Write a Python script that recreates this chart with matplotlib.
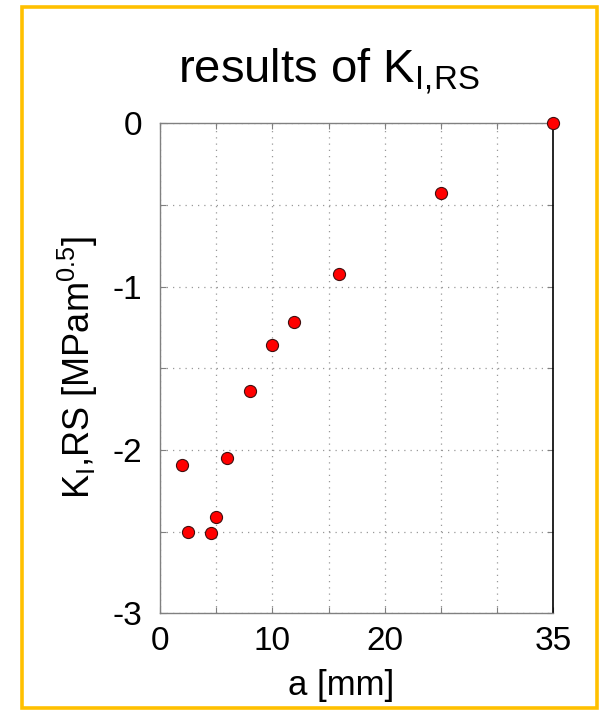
import matplotlib
matplotlib.use('Agg')
import matplotlib.pyplot as plt
import matplotlib.patches as mpatches
import numpy as np

plt.rcParams['font.family'] = ['Liberation Sans', 'DejaVu Sans']
plt.rcParams['mathtext.fontset'] = 'custom'
plt.rcParams['mathtext.rm'] = 'Liberation Sans'
plt.rcParams['mathtext.it'] = 'Liberation Sans:italic'

# crack length a [mm] and K_I,RS [MPa m^0.5]
a_mm = [35, 25.0, 15.95, 11.95, 10.0, 8.0, 6.0, 2.0, 5.0, 2.5, 4.5]
k_rs = [0.0, -0.425, -0.925, -1.215, -1.357, -1.637, -2.05, -2.09, -2.41, -2.50, -2.51]

x_ticks = [0, 5, 10, 15, 20, 25, 30, 35]
x_labels = ['0', '', '10', '', '20', '', '', '35']
y_ticks = [0, -0.5, -1, -1.5, -2, -2.5, -3]
y_labels = ['0', '', '-1', '', '-2', '', '-3']

fig = plt.figure(figsize=(6.02, 7.12), dpi=100)
ax = fig.add_axes([0.2658, 0.1386, 0.6533, 0.6882])

ax.scatter(a_mm, k_rs, s=76, c='#ff0000', edgecolors='#401010',
           linewidths=0.8, zorder=5, clip_on=False)

ax.set_xlim(0, 35)
ax.set_ylim(-3, 0)
ax.set_xticks(x_ticks)
ax.set_xticklabels(x_labels)
ax.set_yticks(y_ticks)
ax.set_yticklabels(y_labels)
ax.tick_params(direction='in', length=4, width=0.8, colors='#808080',
               labelcolor='black', labelsize=24, top=True, right=True)
ax.tick_params(axis='x', pad=9)
ax.tick_params(axis='y', pad=13)
ax.grid(True, linestyle=(0, (1, 4)), color='#999999', linewidth=0.9)

for side in ['left', 'bottom', 'top']:
    ax.spines[side].set_color('#808080')
    ax.spines[side].set_linewidth(1.0)
ax.spines['right'].set_color('black')
ax.spines['right'].set_linewidth(1.2)

ax.set_xlabel('a [mm]', fontsize=25, va='baseline')
ax.xaxis.set_label_coords(0.4615, -0.1667)
ax.set_ylabel(r'K$_\mathregular{I}$,RS [MPam$^\mathregular{0.5}$]',
              fontsize=26, va='baseline', ha='center', rotation_mode='anchor')
ax.yaxis.set_label_coords(-0.178, 0.5016)

fig.text(329 / 602, 1 - 83.3 / 712, r'results of K$_\mathregular{I{,}RS}$',
         fontsize=34, ha='center', va='baseline')

# yellow frame round the whole figure
frame = mpatches.Rectangle((21.5 / 602, 1 - 707.5 / 712),
                           (597 - 21.5) / 602, (707.5 - 6.5) / 712,
                           transform=fig.transFigure, fill=False,
                           edgecolor='#ffc000', linewidth=2.6)
fig.patches.append(frame)

fig.savefig('out.png', dpi=100)
